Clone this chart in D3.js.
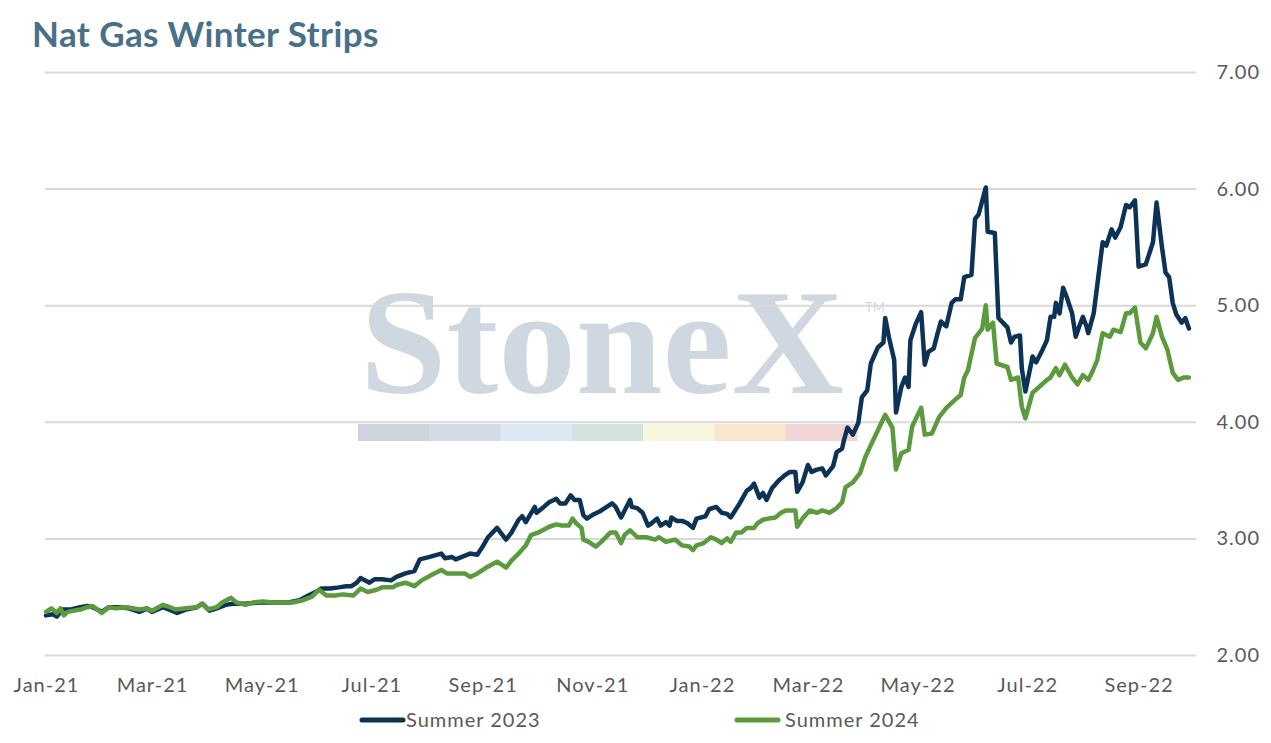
<!DOCTYPE html>
<html>
<head>
<meta charset="utf-8">
<script src="https://cdn.jsdelivr.net/npm/d3@7"></script>
<style>
  html, body { margin: 0; padding: 0; background: #ffffff; }
  svg { display: block; }
</style>
</head>
<body>
<svg id="chart" width="1271" height="743"></svg>
<script>
const title = "Nat Gas Winter Strips";
const seriesNames = ["Summer 2023", "Summer 2024"];
const yTicks = [2, 3, 4, 5, 6, 7];

const s23Dates = ["2021-01-01","2021-01-05","2021-01-07","2021-01-10","2021-01-15","2021-01-20","2021-01-24","2021-01-27","2021-02-01","2021-02-05","2021-02-11","2021-02-16","2021-02-22","2021-02-26","2021-03-01","2021-03-07","2021-03-12","2021-03-15","2021-03-20","2021-03-26","2021-03-29","2021-04-02","2021-04-06","2021-04-11","2021-04-15","2021-04-19","2021-04-22","2021-04-30","2021-05-05","2021-05-11","2021-05-16","2021-05-22","2021-05-27","2021-05-31","2021-06-03","2021-06-08","2021-06-13","2021-06-17","2021-06-20","2021-06-23","2021-06-25","2021-06-30","2021-07-03","2021-07-07","2021-07-12","2021-07-15","2021-07-20","2021-07-25","2021-07-28","2021-08-02","2021-08-09","2021-08-11","2021-08-15","2021-08-17","2021-08-25","2021-08-29","2021-09-01","2021-09-04","2021-09-09","2021-09-14","2021-09-17","2021-09-21","2021-09-23","2021-09-25","2021-09-30","2021-10-01","2021-10-05","2021-10-08","2021-10-12","2021-10-14","2021-10-17","2021-10-20","2021-10-22","2021-10-25","2021-10-27","2021-10-29","2021-11-01","2021-11-05","2021-11-09","2021-11-12","2021-11-14","2021-11-17","2021-11-19","2021-11-22","2021-11-23","2021-11-26","2021-11-29","2021-12-02","2021-12-04","2021-12-07","2021-12-09","2021-12-12","2021-12-14","2021-12-15","2021-12-18","2021-12-21","2021-12-24","2021-12-27","2021-12-29","2022-01-03","2022-01-05","2022-01-09","2022-01-12","2022-01-15","2022-01-17","2022-01-22","2022-01-26","2022-01-28","2022-01-30","2022-02-02","2022-02-04","2022-02-06","2022-02-09","2022-02-13","2022-02-16","2022-02-19","2022-02-22","2022-02-23","2022-02-26","2022-03-01","2022-03-03","2022-03-06","2022-03-09","2022-03-11","2022-03-15","2022-03-17","2022-03-20","2022-03-21","2022-03-23","2022-03-26","2022-03-29","2022-03-31","2022-04-03","2022-04-05","2022-04-09","2022-04-12","2022-04-13","2022-04-15","2022-04-18","2022-04-19","2022-04-22","2022-04-24","2022-04-26","2022-04-27","2022-04-30","2022-05-03","2022-05-05","2022-05-07","2022-05-10","2022-05-12","2022-05-14","2022-05-17","2022-05-20","2022-05-22","2022-05-25","2022-05-27","2022-05-31","2022-06-02","2022-06-04","2022-06-08","2022-06-09","2022-06-13","2022-06-15","2022-06-20","2022-06-22","2022-06-24","2022-06-27","2022-06-28","2022-06-30","2022-07-04","2022-07-06","2022-07-09","2022-07-12","2022-07-14","2022-07-16","2022-07-17","2022-07-19","2022-07-21","2022-07-23","2022-07-26","2022-07-28","2022-07-30","2022-08-01","2022-08-03","2022-08-04","2022-08-07","2022-08-09","2022-08-12","2022-08-14","2022-08-17","2022-08-19","2022-08-22","2022-08-25","2022-08-27","2022-08-30","2022-09-01","2022-09-05","2022-09-09","2022-09-11","2022-09-14","2022-09-16","2022-09-18","2022-09-20","2022-09-22","2022-09-25","2022-09-27","2022-09-29"];
const s23Values = [2.34,2.35,2.33,2.39,2.39,2.41,2.42,2.41,2.37,2.41,2.41,2.40,2.37,2.40,2.37,2.41,2.38,2.36,2.39,2.41,2.44,2.38,2.40,2.43,2.44,2.44,2.44,2.45,2.45,2.45,2.45,2.47,2.51,2.54,2.57,2.57,2.58,2.59,2.59,2.62,2.66,2.62,2.65,2.65,2.64,2.67,2.70,2.72,2.82,2.84,2.87,2.83,2.84,2.82,2.87,2.86,2.93,3.01,3.09,2.99,3.05,3.16,3.19,3.14,3.27,3.22,3.27,3.31,3.34,3.30,3.30,3.37,3.33,3.33,3.20,3.17,3.20,3.23,3.27,3.30,3.27,3.18,3.24,3.33,3.27,3.26,3.22,3.11,3.13,3.17,3.11,3.14,3.11,3.18,3.15,3.15,3.13,3.09,3.17,3.19,3.25,3.27,3.22,3.21,3.18,3.30,3.41,3.43,3.47,3.35,3.39,3.33,3.43,3.50,3.54,3.57,3.57,3.40,3.48,3.63,3.57,3.59,3.60,3.54,3.62,3.74,3.77,3.84,3.95,3.89,3.99,4.21,4.27,4.50,4.64,4.68,4.89,4.73,4.53,4.08,4.30,4.38,4.30,4.70,4.84,4.94,4.49,4.60,4.63,4.75,4.86,4.82,5.02,5.05,5.05,5.24,5.26,5.74,5.78,6.01,5.63,5.62,4.89,4.81,4.68,4.73,4.74,4.46,4.26,4.56,4.51,4.60,4.70,4.90,4.90,5.02,4.93,5.15,5.07,4.93,4.73,4.82,4.90,4.82,4.76,4.93,5.17,5.54,5.51,5.65,5.58,5.67,5.86,5.84,5.90,5.33,5.35,5.54,5.88,5.50,5.28,5.24,5.02,4.92,4.85,4.89,4.80];

const s24Dates = ["2021-01-01","2021-01-04","2021-01-07","2021-01-09","2021-01-11","2021-01-13","2021-01-20","2021-01-24","2021-01-27","2021-02-01","2021-02-05","2021-02-09","2021-02-15","2021-02-22","2021-02-26","2021-03-01","2021-03-07","2021-03-11","2021-03-14","2021-03-20","2021-03-26","2021-03-29","2021-04-01","2021-04-06","2021-04-09","2021-04-14","2021-04-17","2021-04-22","2021-04-26","2021-05-02","2021-05-07","2021-05-13","2021-05-18","2021-05-24","2021-05-29","2021-06-02","2021-06-06","2021-06-11","2021-06-15","2021-06-21","2021-06-25","2021-06-29","2021-07-04","2021-07-07","2021-07-13","2021-07-15","2021-07-20","2021-07-25","2021-07-29","2021-08-04","2021-08-09","2021-08-12","2021-08-17","2021-08-22","2021-08-25","2021-08-28","2021-09-03","2021-09-09","2021-09-14","2021-09-17","2021-09-21","2021-09-25","2021-09-28","2021-10-02","2021-10-08","2021-10-12","2021-10-15","2021-10-19","2021-10-21","2021-10-23","2021-10-26","2021-10-27","2021-10-30","2021-11-03","2021-11-06","2021-11-11","2021-11-14","2021-11-17","2021-11-19","2021-11-22","2021-11-26","2021-12-01","2021-12-06","2021-12-08","2021-12-12","2021-12-17","2021-12-21","2021-12-25","2021-12-27","2021-12-29","2022-01-02","2022-01-06","2022-01-09","2022-01-12","2022-01-15","2022-01-17","2022-01-20","2022-01-23","2022-01-26","2022-01-30","2022-02-01","2022-02-04","2022-02-07","2022-02-11","2022-02-14","2022-02-17","2022-02-22","2022-02-23","2022-02-26","2022-03-02","2022-03-06","2022-03-09","2022-03-13","2022-03-17","2022-03-20","2022-03-22","2022-03-26","2022-03-30","2022-04-02","2022-04-05","2022-04-09","2022-04-13","2022-04-17","2022-04-19","2022-04-22","2022-04-26","2022-04-28","2022-05-03","2022-05-05","2022-05-09","2022-05-13","2022-05-17","2022-05-22","2022-05-25","2022-05-27","2022-05-29","2022-06-02","2022-06-06","2022-06-08","2022-06-09","2022-06-12","2022-06-14","2022-06-20","2022-06-22","2022-06-26","2022-06-28","2022-06-30","2022-07-04","2022-07-07","2022-07-12","2022-07-14","2022-07-17","2022-07-19","2022-07-22","2022-07-26","2022-07-29","2022-08-01","2022-08-04","2022-08-06","2022-08-09","2022-08-12","2022-08-16","2022-08-18","2022-08-22","2022-08-25","2022-08-27","2022-08-30","2022-09-02","2022-09-05","2022-09-09","2022-09-11","2022-09-14","2022-09-17","2022-09-20","2022-09-23","2022-09-26","2022-09-29"];
const s24Values = [2.37,2.40,2.36,2.40,2.34,2.37,2.39,2.41,2.42,2.36,2.41,2.40,2.41,2.39,2.40,2.38,2.43,2.41,2.39,2.40,2.41,2.44,2.39,2.41,2.45,2.49,2.45,2.43,2.45,2.46,2.45,2.45,2.45,2.47,2.50,2.56,2.51,2.51,2.52,2.51,2.57,2.54,2.56,2.58,2.58,2.60,2.62,2.59,2.64,2.69,2.73,2.70,2.70,2.70,2.67,2.69,2.75,2.80,2.75,2.81,2.87,2.94,3.03,3.05,3.10,3.12,3.11,3.11,3.17,3.13,3.09,2.99,2.97,2.93,2.97,3.05,3.05,2.96,3.03,3.07,3.01,3.01,2.99,3.01,2.97,2.99,2.94,2.93,2.90,2.94,2.96,3.01,2.99,2.96,3.00,2.97,3.05,3.05,3.09,3.09,3.13,3.16,3.17,3.18,3.22,3.24,3.24,3.10,3.17,3.24,3.22,3.24,3.22,3.26,3.31,3.44,3.48,3.56,3.70,3.80,3.93,4.06,3.95,3.59,3.73,3.76,3.96,4.12,3.89,3.90,4.04,4.12,4.19,4.23,4.38,4.44,4.72,4.80,5.00,4.79,4.85,4.50,4.47,4.36,4.38,4.13,4.03,4.25,4.29,4.36,4.38,4.46,4.40,4.49,4.38,4.32,4.40,4.36,4.42,4.53,4.76,4.73,4.79,4.77,4.93,4.93,4.98,4.68,4.63,4.76,4.90,4.73,4.62,4.42,4.36,4.38,4.38];

const watermarkText = "StoneX";
const watermarkBand = ["#cdd4dd","#d3dce6","#dce9f3","#d3e2da","#f8f6df","#f9e6cf","#f1d5d6"];

const parse = d3.timeParse("%Y-%m-%d");
const series = [
  { name: seriesNames[0], color: "#0c3356", data: s23Dates.map((d, i) => ({ date: parse(d), value: s23Values[i] })) },
  { name: seriesNames[1], color: "#5b9b3d", data: s24Dates.map((d, i) => ({ date: parse(d), value: s24Values[i] })) }
];

const svg = d3.select("#chart");
const plotLeft = 45, plotRight = 1196, plotTop = 72, plotBottom = 655;

const x = d3.scaleTime()
  .domain([parse("2021-01-01"), parse("2022-10-01")])
  .range([46, 1192.5]);
const y = d3.scaleLinear().domain([2, 7]).range([plotBottom, plotTop]);

const font = "Lato, 'Open Sans', sans-serif";

// title
svg.append("text")
  .attr("x", 32).attr("y", 47)
  .attr("font-family", font).attr("font-weight", 700)
  .attr("font-size", 35).attr("letter-spacing", 0.4).attr("fill", "#4a6f89")
  .text(title);

// watermark
const wm = svg.append("g").attr("class", "watermark");
wm.append("text")
  .attr("x", 360).attr("y", 393)
  .attr("font-family", "'Liberation Serif', 'DejaVu Serif', serif")
  .attr("font-weight", 700)
  .attr("font-size", 150)
  .attr("textLength", 484).attr("lengthAdjust", "spacingAndGlyphs")
  .attr("fill", "#cfd7e0")
  .text(watermarkText);
wm.append("text")
  .attr("x", 865).attr("y", 312)
  .attr("font-family", font).attr("font-size", 13)
  .attr("fill", "#cfd7e0")
  .text("TM");
const bandX = d3.scaleBand().domain(d3.range(watermarkBand.length)).range([358, 857]);
wm.selectAll("rect").data(watermarkBand).join("rect")
  .attr("x", (d, i) => bandX(i)).attr("y", 424)
  .attr("width", bandX.bandwidth() + 0.5).attr("height", 17)
  .attr("fill", d => d);

// y grid + labels
const yAxis = d3.axisRight(y)
  .tickValues(yTicks)
  .tickSize(-(plotRight - plotLeft))
  .tickFormat(d3.format(".2f"));
const yg = svg.append("g").attr("transform", `translate(${plotRight},0)`).call(yAxis);
yg.select(".domain").remove();
yg.selectAll(".tick line").attr("stroke", "#d9d9d9").attr("stroke-width", 2);
yg.selectAll(".tick text")
  .attr("x", 1260 - plotRight).attr("text-anchor", "end")
  .attr("font-family", font).attr("font-size", 20).attr("letter-spacing", 1)
  .attr("fill", "#595959");

// x axis labels
const xAxis = d3.axisBottom(x)
  .ticks(d3.timeMonth.every(2))
  .tickSize(0)
  .tickFormat(d3.timeFormat("%b-%y"));
const xg = svg.append("g").attr("transform", `translate(0,${plotBottom})`).call(xAxis);
xg.select(".domain").remove();
xg.selectAll(".tick text")
  .attr("y", 37).attr("dy", 0)
  .attr("font-family", font).attr("font-size", 20).attr("letter-spacing", 1)
  .attr("fill", "#595959");

// lines
const line = d3.line().x(d => x(d.date)).y(d => y(d.value)).curve(d3.curveLinear);
svg.append("g").selectAll("path").data(series).join("path")
  .attr("d", d => line(d.data))
  .attr("fill", "none")
  .attr("stroke", d => d.color)
  .attr("stroke-width", 4.5)
  .attr("stroke-linejoin", "round")
  .attr("stroke-linecap", "round");

// legend
const legendPos = [{ sx: 362, tx: 406 }, { sx: 737, tx: 785 }];
const lg = svg.append("g").selectAll("g").data(series).join("g");
lg.append("line")
  .attr("x1", (d, i) => legendPos[i].sx).attr("x2", (d, i) => legendPos[i].sx + 41)
  .attr("y1", 720).attr("y2", 720)
  .attr("stroke", d => d.color).attr("stroke-width", 5).attr("stroke-linecap", "round");
lg.append("text")
  .attr("x", (d, i) => legendPos[i].tx).attr("y", 727)
  .attr("font-family", font).attr("font-size", 20).attr("letter-spacing", 1)
  .attr("fill", "#595959")
  .text(d => d.name);
</script>
</body>
</html>
